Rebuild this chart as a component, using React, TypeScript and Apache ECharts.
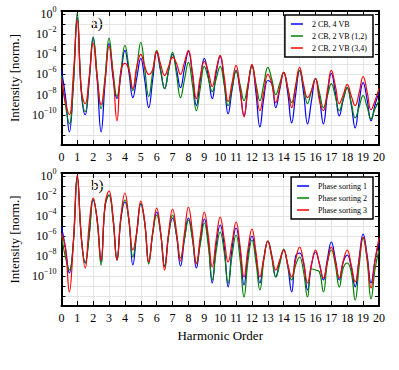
import React, { useEffect, useRef } from "react";
import * as echarts from "echarts";

// Harmonic order sample positions (step 0.25, 0..20)
const harmonics: number[] = Array.from({ length: 81 }, (_, i) => i / 4);

// Panel a) log10 of intensity
const aBlue: number[] = [
  -5.6, -8.1, -11.7, -7.1, -0.3, -7.7, -10.0, -6.7, -2.4, -6.5, -11.7, -6.8,
  -2.9, -6.3, -8.4, -6.0, -3.6, -5.8, -8.3, -6.3, -4.4, -6.6, -9.3, -6.5,
  -3.8, -5.7, -7.4, -5.6, -4.0, -5.5, -7.3, -5.4, -3.7, -6.0, -9.1, -6.5,
  -4.4, -6.2, -8.4, -5.8, -4.2, -6.8, -9.9, -7.5, -5.6, -7.6, -10.1, -7.3,
  -5.1, -7.8, -11.2, -8.3, -6.6, -6.9, -9.3, -7.5, -5.8, -7.8, -10.8, -8.0,
  -5.6, -7.8, -10.9, -8.6, -6.4, -8.3, -10.9, -8.0, -5.9, -7.8, -10.1, -8.5,
  -7.3, -9.0, -11.3, -8.7, -6.8, -8.5, -10.6, -9.0, -7.8,
];
const aGreen: number[] = [
  -6.1, -9.0, -10.9, -7.0, 0.1, -7.4, -9.7, -6.4, -2.3, -6.0, -9.4, -6.2,
  -2.4, -5.7, -8.2, -5.6, -3.1, -5.3, -7.6, -5.3, -2.8, -5.5, -8.2, -5.8,
  -3.6, -5.5, -7.4, -5.6, -3.8, -6.0, -8.3, -6.5, -4.8, -7.0, -9.6, -7.3,
  -5.2, -6.4, -7.7, -6.4, -5.2, -7.0, -9.1, -7.3, -5.7, -7.0, -8.6, -6.9,
  -5.2, -6.9, -8.6, -6.9, -5.3, -6.5, -8.0, -6.9, -5.8, -7.3, -8.8, -7.2,
  -5.6, -7.2, -8.9, -7.6, -6.4, -7.8, -9.3, -8.1, -6.9, -8.2, -9.6, -8.4,
  -7.3, -8.8, -10.3, -9.2, -8.1, -9.2, -10.4, -9.4, -8.6,
];
const aRed: number[] = [
  -6.4, -8.7, -10.0, -6.0, -0.6, -7.5, -8.9, -6.2, -2.9, -6.3, -9.0, -6.6,
  -3.2, -6.0, -10.6, -5.6, -4.9, -5.5, -7.4, -5.2, -4.0, -5.2, -6.0, -5.5,
  -3.7, -5.0, -6.1, -5.2, -4.3, -4.9, -6.0, -4.8, -3.6, -5.8, -8.4, -6.2,
  -4.7, -5.7, -7.2, -5.5, -4.1, -6.2, -8.7, -6.8, -5.1, -7.4, -10.2, -7.2,
  -5.0, -7.2, -9.6, -7.7, -6.0, -6.9, -8.8, -7.3, -5.8, -7.3, -9.3, -7.1,
  -5.3, -7.0, -8.3, -7.6, -6.4, -8.6, -9.6, -7.6, -5.6, -7.1, -8.9, -8.0,
  -7.0, -8.1, -9.1, -7.8, -6.2, -7.7, -9.5, -8.6, -7.4,
];

// Panel b) log10 of intensity
const bBlue: number[] = [
  -5.1, -7.1, -9.7, -6.7, -0.1, -6.0, -8.7, -5.9, -2.4, -4.3, -8.6, -3.0,
  -1.9, -4.2, -8.4, -4.3, -2.6, -4.4, -8.9, -5.6, -2.8, -4.7, -8.6, -5.7,
  -3.6, -5.7, -9.0, -5.9, -4.2, -6.0, -9.0, -6.3, -4.2, -6.2, -9.2, -6.5,
  -4.3, -6.5, -10.7, -6.9, -4.9, -7.0, -11.1, -7.2, -5.2, -7.4, -10.9, -7.8,
  -6.0, -8.0, -10.7, -8.2, -6.5, -8.0, -10.1, -8.6, -7.4, -9.0, -11.6, -8.0,
  -7.7, -8.7, -11.4, -8.9, -7.6, -8.8, -10.4, -8.3, -6.6, -8.3, -10.4, -8.6,
  -7.9, -9.1, -11.1, -8.2, -5.8, -7.9, -10.7, -8.4, -6.6,
];
const bGreen: number[] = [
  -5.9, -8.1, -9.4, -6.7, -0.1, -6.1, -8.7, -5.9, -2.3, -4.5, -8.9, -3.0,
  -1.9, -4.4, -8.4, -4.1, -2.4, -4.5, -8.1, -5.6, -2.7, -4.8, -8.8, -5.8,
  -3.9, -5.8, -9.1, -6.0, -3.9, -5.9, -8.2, -6.3, -4.4, -6.3, -8.7, -6.8,
  -4.7, -7.0, -10.4, -7.5, -5.6, -7.6, -10.7, -7.9, -5.9, -8.3, -12.1, -8.5,
  -6.4, -8.6, -11.4, -8.4, -6.5, -8.2, -10.1, -8.8, -7.3, -8.9, -10.4, -8.9,
  -8.1, -9.6, -12.1, -9.3, -9.4, -9.6, -11.6, -8.7, -7.4, -8.9, -11.1, -9.2,
  -8.7, -9.6, -12.4, -9.0, -6.2, -8.4, -12.3, -9.3, -7.4,
];
const bRed: number[] = [
  -5.7, -7.2, -11.6, -6.7, 0.1, -6.1, -9.2, -4.8, -2.2, -4.4, -8.4, -2.8,
  -1.5, -4.1, -8.4, -4.0, -1.7, -4.3, -7.4, -5.5, -2.5, -4.6, -8.6, -5.6,
  -3.2, -5.6, -9.4, -5.7, -3.3, -5.6, -8.5, -5.7, -3.1, -5.6, -8.8, -6.0,
  -3.6, -6.0, -9.1, -6.3, -4.1, -6.3, -8.6, -6.6, -4.6, -7.0, -10.1, -7.3,
  -5.3, -7.6, -10.1, -8.2, -6.5, -8.0, -9.4, -8.4, -7.4, -8.8, -10.1, -8.4,
  -7.1, -8.6, -10.7, -8.8, -7.4, -8.8, -10.2, -8.6, -7.1, -8.5, -10.2, -8.5,
  -7.4, -8.9, -10.6, -8.4, -6.1, -8.2, -11.2, -8.4, -6.2,
];

const aNames = ["2 CB, 4 VB", "2 CB, 2 VB (1,2)", "2 CB, 2 VB (3,4)"];
const bNames = ["Phase sorting 1", "Phase sorting 2", "Phase sorting 3"];
const colors = ["#0000ff", "#008000", "#ff0000"];

const FONT = "Liberation Serif";

export default function App() {
  const ref = useRef<HTMLDivElement>(null);
  useEffect(() => {
    if (!ref.current) return;
    const chart = echarts.init(ref.current, null, { renderer: "svg" });

    const yLabelFmt = (v: number) => {
      const n = Math.round(v);
      if (Math.abs(v - n) > 1e-6 || n % 2 !== 0 || n < -10 || n > 0) return "";
      return `{b|10}{s|${n === 0 ? "0" : "\u2212" + -n}}`;
    };

    const grids = [
      { left: 60, top: 11, width: 319, height: 134 },
      { left: 60, top: 173, width: 319, height: 133 },
    ];

    const xAxes: any[] = [];
    const yAxes: any[] = [];
    [0, 1].forEach((g) => {
      xAxes.push({
        gridIndex: g,
        type: "value",
        min: 0,
        max: 20,
        interval: 1,
        position: "bottom",
        axisLine: { show: true, onZero: false, lineStyle: { color: "#000", width: 2 } },
        axisTick: { show: true, inside: true, length: 5, lineStyle: { color: "#000", width: 1 } },
        axisLabel: { color: "#000", fontFamily: FONT, fontSize: 12, margin: 6 },
        splitLine: { show: true, lineStyle: { color: "#dedede", width: 0.8 } },
        name: g === 1 ? "Harmonic Order" : "",
        nameLocation: "middle",
        nameGap: 23,
        nameTextStyle: { color: "#000", fontFamily: FONT, fontSize: 13 },
      });
      xAxes.push({
        gridIndex: g,
        type: "value",
        min: 0,
        max: 20,
        interval: 1,
        position: "top",
        axisLine: { show: true, onZero: false, lineStyle: { color: "#000", width: 2 } },
        axisTick: { show: true, inside: true, length: 5, lineStyle: { color: "#000", width: 1 } },
        axisLabel: { show: false },
        splitLine: { show: false },
      });
      yAxes.push({
        gridIndex: g,
        type: "value",
        min: -13,
        max: 0.3,
        interval: 1,
        position: "left",
        axisLine: { show: true, onZero: false, lineStyle: { color: "#000", width: 2 } },
        axisTick: { show: true, inside: true, length: 4, lineStyle: { color: "#000", width: 1 } },
        axisLabel: {
          formatter: yLabelFmt,
          margin: 5,
          rich: {
            b: { fontFamily: FONT, fontSize: 12, color: "#000" },
            s: { fontFamily: FONT, fontSize: 8, color: "#000", padding: [0, 0, 9, 0] },
          },
        },
        splitLine: { show: true, lineStyle: { color: "#dedede", width: 0.8 } },
        name: "Intensity [norm.]",
        nameLocation: "middle",
        nameGap: 40,
        nameRotate: 90,
        nameTextStyle: { color: "#000", fontFamily: FONT, fontSize: 13 },
      });
      yAxes.push({
        gridIndex: g,
        type: "value",
        min: -13,
        max: 0.3,
        interval: 1,
        position: "right",
        axisLine: { show: true, onZero: false, lineStyle: { color: "#000", width: 2 } },
        axisTick: { show: true, inside: true, length: 4, lineStyle: { color: "#000", width: 1 } },
        axisLabel: { show: false },
        splitLine: { show: false },
      });
    });

    const mk = (name: string, arr: number[], ci: number, g: number) => ({
      name,
      type: "line",
      xAxisIndex: g * 2,
      yAxisIndex: g * 2,
      data: harmonics.map((h, i) => [h, arr[i]]),
      showSymbol: false,
      symbol: "none",
      smooth: 0.45,
      lineStyle: { color: colors[ci], width: 1.2 },
      itemStyle: { color: colors[ci] },
    });

    const series = [
      mk(aNames[0], aBlue, 0, 0),
      mk(aNames[1], aGreen, 1, 0),
      mk(aNames[2], aRed, 2, 0),
      mk(bNames[0], bBlue, 0, 1),
      mk(bNames[1], bGreen, 1, 1),
      mk(bNames[2], bRed, 2, 1),
    ];

    const legendBase = {
      orient: "vertical",
      icon: "rect",
      itemWidth: 12,
      itemHeight: 1.5,
      itemGap: 4,
      backgroundColor: "#fff",
      borderColor: "#000",
      borderWidth: 1.5,
      borderRadius: 0,
      textStyle: { fontFamily: FONT, fontSize: 8, color: "#000", padding: [0, 0, 0, 4] },
    };

    chart.setOption({
      animation: false,
      backgroundColor: "#fff",
      grid: grids,
      xAxis: xAxes,
      yAxis: yAxes,
      series,
      legend: [
        { ...legendBase, data: aNames, right: 26, top: 15, padding: [5, 6, 5, 6] },
        { ...legendBase, data: bNames, right: 26, top: 177, padding: [5, 6, 5, 6] },
      ],
      graphic: [
        { type: "text", left: 91, top: 15, style: { text: "a)", fontFamily: FONT, fontSize: 15, fill: "#000" } },
        { type: "text", left: 91, top: 177, style: { text: "b)", fontFamily: FONT, fontSize: 15, fill: "#000" } },
      ],
    });
    return () => chart.dispose();
  }, []);
  return (
    <div
      ref={ref}
      style={{ position: "fixed", left: 0, top: 0, width: 399, height: 370 }}
    />
  );
}
